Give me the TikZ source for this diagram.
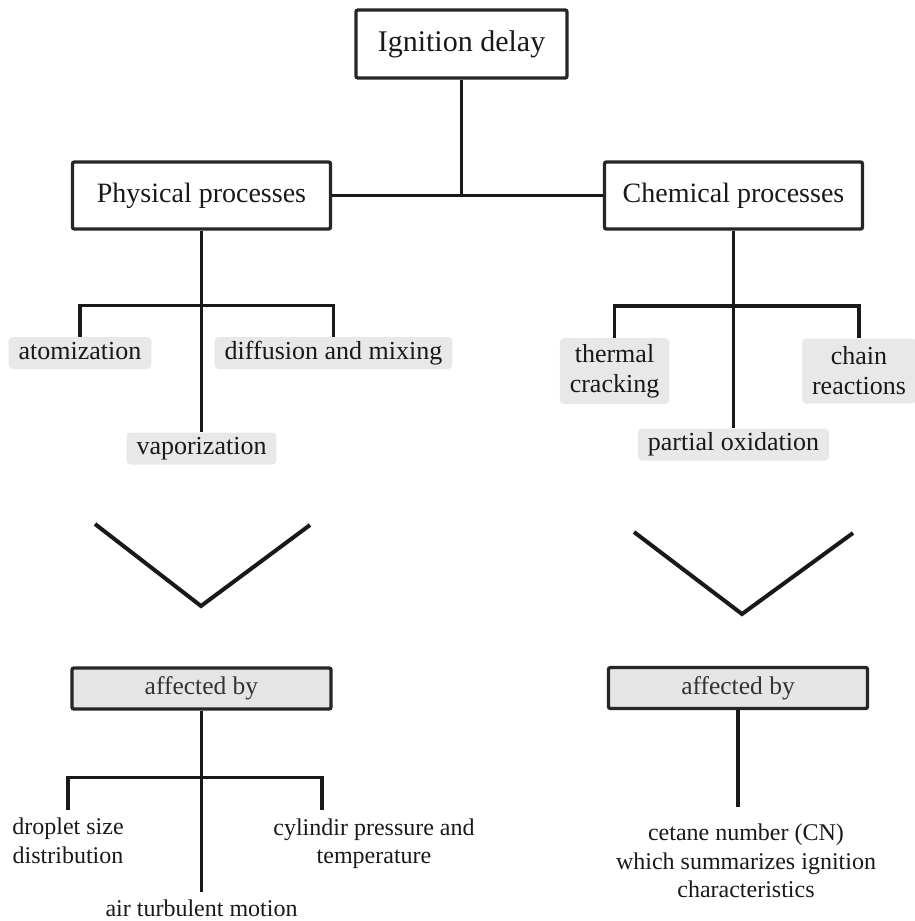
\documentclass[tikz,border=0pt]{standalone}
\usepackage{fontspec}
\setmainfont{Liberation Serif}
\usepackage{tikz}
\usetikzlibrary{positioning}
\tikzstyle{mainbox} = [rectangle, rounded corners=2pt, draw=black!85, line width=3.4pt, minimum width=211pt, minimum height=68pt, text=black!90, font=\fontsize{30}{34}\selectfont]
\tikzstyle{procbox} = [rectangle, rounded corners=2pt, draw=black!85, line width=3.4pt, minimum width=258pt, minimum height=67pt, text=black!90, font=\fontsize{28}{32}\selectfont]
\tikzstyle{item} = [rectangle, rounded corners=4pt, fill=gray!18, inner xsep=10pt, inner ysep=4pt, text height=18pt, text depth=6pt, text=black!90, font=\fontsize{26}{30}\selectfont]
\tikzstyle{itemtwo} = [rectangle, rounded corners=4pt, fill=gray!18, inner xsep=10pt, inner ysep=6pt, minimum height=65pt, align=center, text=black!90, font=\fontsize{26}{30}\selectfont]
\tikzstyle{affbox} = [rectangle, rounded corners=2pt, draw=black!85, fill=gray!20, line width=3.4pt, minimum width=259pt, minimum height=41pt, text=black!80, font=\fontsize{25.5}{30}\selectfont]
\tikzstyle{factor} = [align=center, inner xsep=0pt, inner ysep=8pt, text=black!90, font=\fontsize{24}{28.5}\selectfont]
\tikzstyle{link} = [line width=3.2pt, black!90]
\tikzstyle{vee} = [line width=4pt, black!90]

\begin{document}
\begin{tikzpicture}[x=1pt, y=1pt, node distance=155pt]
    \useasboundingbox (0,0) rectangle (915,-921);
    \node (delay) [mainbox] at (461.5,-44) {Ignition delay};
    \node (phys) [procbox, below of=delay, xshift=-260, yshift=3.5] {Physical processes};
    \node (chem) [procbox, below of=delay, xshift=272, yshift=3.5] {Chemical processes};
    \node (atom) [item, below of=phys, xshift=-121.5, yshift=-2.5] {atomization};
    \node (diff) [item, below of=phys, xshift=132, yshift=-2.5] {diffusion and mixing};
    \node (vapor) [item, below of=phys, yshift=-98] {vaporization};
    \node (thermal) [itemtwo, below of=chem, xshift=-119, yshift=-20.5] {thermal\\cracking};
    \node (chain) [itemtwo, below of=chem, xshift=125.5, yshift=-20.5] {chain\\reactions};
    \node (partial) [item, below of=chem, yshift=-94] {partial oxidation};
    \node (aff1) [affbox, below of=vapor, yshift=-85] {affected by};
    \node (aff2) [affbox, below of=partial, xshift=4.5, yshift=-88.5] {affected by};
    \node (droplet) [factor, below of=aff1, xshift=-133.5, yshift=2.5] {droplet size\\distribution};
    \node (cyl) [factor, below of=aff1, xshift=172.5] {cylindir pressure and\\temperature};
    \node (air) [factor, below of=aff1, yshift=-65] {air turbulent motion};
    \node (cetane) [factor, inner ysep=17pt, below of=aff2, xshift=8, yshift=-18] {cetane number (CN)\\which summarizes ignition\\characteristics};
    \draw [link] (delay) -- (delay |- phys.east);
    \draw [link] (phys.east) -- (chem.west);
    \draw [link] (phys) -- (vapor);
    \draw [link] (atom.north) -- ++(0,31) -| (diff.north);
    \draw [link] (chem) -- (partial);
    \draw [link] (thermal.north) -- ++(0,32) -| (chain.north);
    \draw [vee] (95,-524) -- (201,-606) -- (310,-525);
    \draw [vee] (634,-532) -- (742,-614) -- (853,-533);
    \draw [link] (aff1) -- (air);
    \draw [link] (droplet.north) -- ++(0,33) -| ([xshift=-52]cyl.north);
    \draw [link] (aff2) -- (aff2 |- cetane.north);
\end{tikzpicture}
\end{document}
